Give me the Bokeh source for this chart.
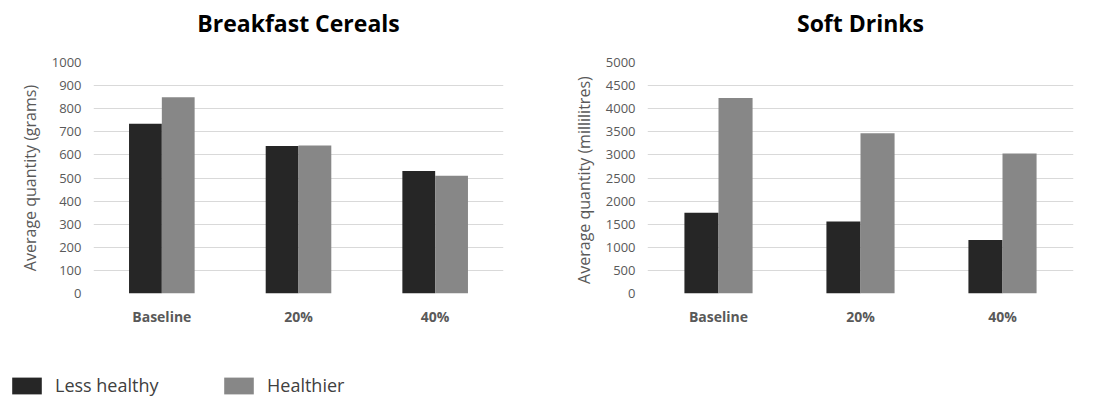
from bokeh.plotting import figure
from bokeh.models import (FactorRange, Range1d, FixedTicker, ColumnDataSource,
                          Legend, LegendItem)
from bokeh.transform import dodge
from bokeh.layouts import row, column
from bokeh.embed import file_html
from bokeh.resources import INLINE

categories = ["Baseline", "20%", "40%"]
cereal_less = [735, 638, 530]
cereal_health = [850, 641, 510]
drinks_less = [1750, 1560, 1160]
drinks_health = [4230, 3470, 3030]
cereal_ticks = list(range(0, 1001, 100))
drinks_ticks = list(range(0, 5001, 500))
series_names = ["Less healthy", "Healthier"]

DARK = "#262626"
GRAY = "#878787"
FONT = "Open Sans"
TITLE_H = 46


def title_strip(title, width, mbl, mbr):
    t = figure(width=width, height=TITLE_H, x_range=Range1d(0, 1), y_range=Range1d(0, 1),
               x_axis_type=None, y_axis_type=None, output_backend="svg",
               toolbar_location=None, min_border_left=mbl, min_border_right=mbr,
               min_border_top=0, min_border_bottom=0)
    t.outline_line_color = None
    t.xgrid.visible = False
    t.ygrid.visible = False
    t.title.text = title
    t.title.align = "center"
    t.title.text_font = FONT
    t.title.text_font_style = "bold"
    t.title.text_font_size = "23px"
    t.title.text_color = "#000000"
    t.title.standoff = 8
    return t


def make(ylabel, less, health, ymax, ticks, width, mbl, mbr):
    src = ColumnDataSource(dict(cat=categories, less=less, health=health))
    p = figure(x_range=FactorRange(*categories, range_padding=0),
               y_range=Range1d(0, ymax), width=width, height=340 - TITLE_H,
               output_backend="svg", toolbar_location=None,
               min_border_left=mbl, min_border_right=mbr,
               min_border_top=62 - TITLE_H, min_border_bottom=47)
    p.vbar(x=dodge("cat", -0.12, range=p.x_range), top="less", width=0.24,
           source=src, fill_color=DARK, line_color=None)
    p.vbar(x=dodge("cat", 0.12, range=p.x_range), top="health", width=0.24,
           source=src, fill_color=GRAY, line_color=None)
    p.outline_line_color = None
    p.xgrid.grid_line_color = None
    p.ygrid.grid_line_color = "#d9d9d9"
    p.yaxis.ticker = FixedTicker(ticks=ticks)
    p.ygrid.ticker = FixedTicker(ticks=ticks)
    for ax in (p.xaxis[0], p.yaxis[0]):
        ax.axis_line_color = None
        ax.major_tick_line_color = None
        ax.minor_tick_line_color = None
        ax.major_tick_out = 0
        ax.major_tick_in = 0
        ax.major_label_text_font = FONT
        ax.major_label_text_color = "#595959"
    p.yaxis.major_label_text_font_size = "13px"
    p.yaxis.major_label_standoff = 12
    p.yaxis.axis_label = ylabel
    p.yaxis.axis_label_text_font = FONT
    p.yaxis.axis_label_text_font_style = "normal"
    p.yaxis.axis_label_text_font_size = "16px"
    p.yaxis.axis_label_text_color = "#595959"
    p.yaxis.axis_label_standoff = 8
    p.xaxis.major_label_text_font_size = "14px"
    p.xaxis.major_label_text_font_style = "bold"
    p.xaxis.major_label_standoff = 13
    return p


t1 = title_strip("Breakfast Cereals", 550, 93, 47)
p1 = make("Average quantity (grams)",
          cereal_less, cereal_health, 1000, cereal_ticks, 550, 93, 47)
t2 = title_strip("Soft Drinks", 536, 97, 13)
p2 = make("Average  quantity (millilitres)",
          drinks_less, drinks_health, 5000, drinks_ticks, 536, 97, 13)

# legend strip
p3 = figure(width=420, height=58, x_range=Range1d(0, 1), y_range=Range1d(0, 1),
            x_axis_type=None, y_axis_type=None, output_backend="svg",
            toolbar_location=None, min_border=0)
p3.outline_line_color = None
p3.xgrid.visible = False
p3.ygrid.visible = False
hidden = ColumnDataSource(dict(x=[-10], top=[-10]))
l1 = p3.vbar(x="x", top="top", bottom=-20, width=0.1, source=hidden,
             fill_color=DARK, line_color=None)
l2 = p3.vbar(x="x", top="top", bottom=-20, width=0.1, source=hidden,
             fill_color=GRAY, line_color=None)
legend = Legend(items=[LegendItem(label=series_names[0], renderers=[l1]),
                       LegendItem(label=series_names[1], renderers=[l2])],
                location=(8, 1), orientation="horizontal",
                glyph_width=37, glyph_height=21, label_standoff=10,
                label_width=110, spacing=55, padding=0, margin=0,
                border_line_color=None, background_fill_alpha=0,
                label_text_font=FONT, label_text_font_size="18px",
                label_text_color="#404040")
p3.add_layout(legend, "center")

layout = column(row(column(t1, p1, spacing=0), column(t2, p2, spacing=0), spacing=0),
                p3, spacing=0)
open("out.html", "w").write(file_html(layout, INLINE))
